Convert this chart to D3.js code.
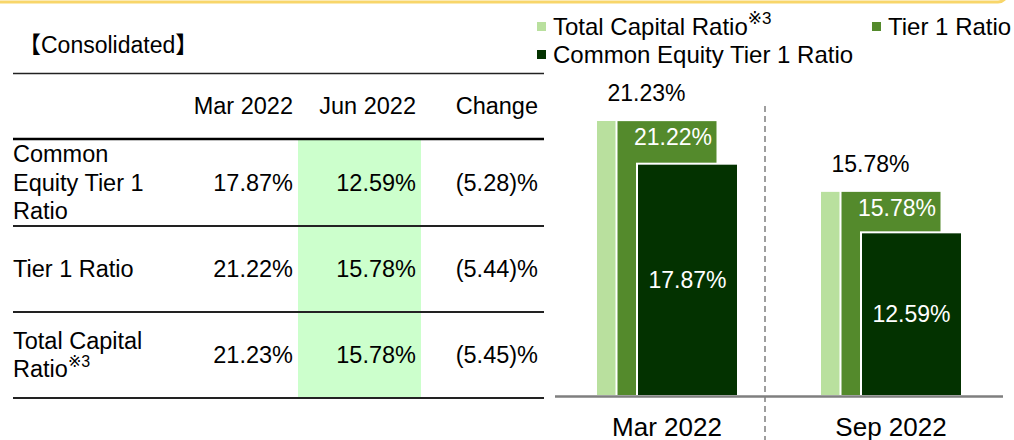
<!DOCTYPE html>
<html>
<head>
<meta charset="utf-8">
<title>Capital Ratios</title>
<script src="https://d3js.org/d3.v7.min.js"></script>
<style>
body { margin: 0; background: #fff; }
svg { display: block; font-family: "Liberation Sans", Arial, "DejaVu Sans", "Noto Sans CJK JP", sans-serif; }
</style>
</head>
<body>
<svg width="1014" height="440"></svg>
<script>

// table data
var tableTitle = "【Consolidated】";
var colHeaders = ["Mar 2022", "Jun 2022", "Change"];
var rowLabels = [["Common", "Equity Tier 1", "Ratio"], ["Tier 1 Ratio"], ["Total Capital", "Ratio"]];
var marValues = ["17.87%", "21.22%", "21.23%"];
var junValues = ["12.59%", "15.78%", "15.78%"];
var changeValues = ["(5.28)%", "(5.44)%", "(5.45)%"];

// chart data
var categories = ["Mar 2022", "Sep 2022"];
var series = ["Total Capital Ratio", "Tier 1 Ratio", "Common Equity Tier 1 Ratio"];
var totalCapital = [21.23, 15.78];
var tier1 = [21.22, 15.78];
var cet1 = [17.87, 12.59];

var colors = ["#b9e09e", "#548a2c", "#033200"];

var svg = d3.select("svg");

// yellow frame edge at the top
svg.append("rect")
    .attr("x", -20).attr("y", -20)
    .attr("width", 1027).attr("height", 22)
    .attr("rx", 9)
    .attr("fill", "none")
    .attr("stroke", "#f8d66a")
    .attr("stroke-width", 3);

// ---------- table ----------
var t = svg.append("g").attr("font-size", 23.5).attr("fill", "#000");

t.append("text").attr("x", 18).attr("y", 53).attr("font-size", 23).text(tableTitle);

var rowTop = [139, 226, 312];
var rowBottom = [226, 312, 398];
var colRight = [293, 416, 538];

// highlight of the Jun column
t.append("rect")
    .attr("x", 298).attr("y", 139)
    .attr("width", 123).attr("height", 259)
    .attr("fill", "#ccffcc");

t.append("line").attr("x1", 13).attr("x2", 544).attr("y1", 73.5).attr("y2", 73.5)
    .attr("stroke", "#222").attr("stroke-width", 1.5);
t.append("line").attr("x1", 13).attr("x2", 544).attr("y1", 139).attr("y2", 139)
    .attr("stroke", "#000").attr("stroke-width", 2.5);
rowBottom.forEach(function(y) {
  t.append("line").attr("x1", 13).attr("x2", 544).attr("y1", y).attr("y2", y)
      .attr("stroke", "#222").attr("stroke-width", 2);
});

colHeaders.forEach(function(h, i) {
  t.append("text").attr("x", colRight[i]).attr("y", 114)
      .attr("text-anchor", "end").text(h);
});

var lineGap = 28.5;
rowLabels.forEach(function(lines, r) {
  var mid = (rowTop[r] + rowBottom[r]) / 2;
  var first = mid - (lines.length - 1) * lineGap / 2;
  lines.forEach(function(s, k) {
    var txt = t.append("text").attr("x", 13).attr("y", first + k * lineGap + 8).text(s);
    if (r === 2 && k === 1) {
      txt.append("tspan").attr("font-size", 16).attr("dy", -10).text("※3");
    }
  });
  [marValues, junValues, changeValues].forEach(function(vals, c) {
    t.append("text").attr("x", colRight[c]).attr("y", mid + 8)
        .attr("text-anchor", "end").text(vals[r]);
  });
});

// ---------- chart ----------
var x = d3.scaleBand().domain(categories).range([555, 1003]);
var inner = d3.scalePoint().domain(series).range([41, 82]);
var barW = 101;
var y = d3.scaleLinear().domain([0, 25]).range([396, 71]);

var chart = svg.append("g");

var seriesValues = [totalCapital, tier1, cet1];

// dashed separator
chart.append("line")
    .attr("x1", 765).attr("x2", 765).attr("y1", 106).attr("y2", 440)
    .attr("stroke", "#7f7f7f").attr("stroke-width", 1.5)
    .attr("stroke-dasharray", "6,4");

series.forEach(function(s, si) {
  chart.selectAll(".bar" + si)
    .data(categories)
    .enter().append("rect")
      .attr("class", "bar" + si)
      .attr("x", function(c) { return x(c) + inner(s); })
      .attr("y", function(c, i) { return y(seriesValues[si][i]); })
      .attr("width", barW)
      .attr("height", function(c, i) { return y(0) - y(seriesValues[si][i]); })
      .attr("fill", colors[si])
      .attr("stroke", "#fff")
      .attr("stroke-width", 2);
});

// baseline
chart.append("line")
    .attr("x1", 555).attr("x2", 1003).attr("y1", y(0) + 0.5).attr("y2", y(0) + 0.5)
    .attr("stroke", "#7f7f7f").attr("stroke-width", 2.5);

// value labels
categories.forEach(function(c, i) {
  var x0 = x(c);
  chart.append("text")
      .attr("x", x0 + inner(series[0]) + barW / 2)
      .attr("y", y(totalCapital[i]) - 19)
      .attr("text-anchor", "middle").attr("font-size", 23).attr("fill", "#000")
      .text(totalCapital[i].toFixed(2) + "%");
  chart.append("text")
      .attr("x", x0 + inner(series[1]) + barW / 2 + 6)
      .attr("y", y(tier1[i]) + 25)
      .attr("text-anchor", "middle").attr("font-size", 23).attr("fill", "#fff")
      .text(tier1[i].toFixed(2) + "%");
  chart.append("text")
      .attr("x", x0 + inner(series[2]) + barW / 2)
      .attr("y", (y(cet1[i]) + y(0)) / 2 + 8)
      .attr("text-anchor", "middle").attr("font-size", 23).attr("fill", "#fff")
      .text(cet1[i].toFixed(2) + "%");
});

// category axis labels
chart.selectAll(".cat")
  .data(categories)
  .enter().append("text")
    .attr("class", "cat")
    .attr("x", function(c) { return x(c) + x.bandwidth() / 2; })
    .attr("y", 436)
    .attr("text-anchor", "middle")
    .attr("font-size", 26)
    .text(function(c) { return c; });

// legend
var legendPos = [{x: 537, y: 35}, {x: 872, y: 35}, {x: 537, y: 63}];
series.forEach(function(s, i) {
  var p = legendPos[i];
  svg.append("rect")
      .attr("x", p.x).attr("y", p.y - 13)
      .attr("width", 9).attr("height", 9)
      .attr("fill", colors[i]);
  var txt = svg.append("text")
      .attr("x", p.x + 16).attr("y", p.y)
      .attr("font-size", 24)
      .text(s);
  if (i === 0) {
    txt.append("tspan").attr("font-size", 17).attr("dy", -11).text("※3");
  }
});

</script>
</body>
</html>
